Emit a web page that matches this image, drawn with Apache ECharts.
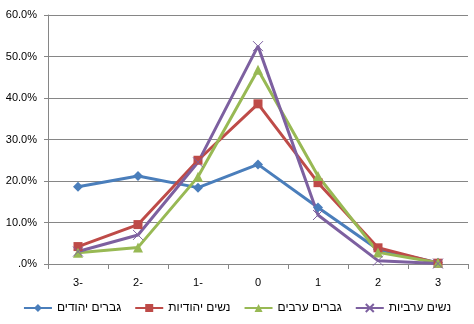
<!DOCTYPE html>
<html><head><meta charset="utf-8">
<script src="https://cdn.jsdelivr.net/npm/echarts@6/dist/echarts.min.js"></script>
<style>html,body{margin:0;padding:0;background:#fff}#c{width:474px;height:324px}</style>
</head><body><div id="c"></div>
<script>
const categories = ['3-', '2-', '1-', '0', '1', '2', '3'];
const yTicks = ['.0%', '10.0%', '20.0%', '30.0%', '40.0%', '50.0%', '60.0%'];
const jewishMen = [18.6, 21.2, 18.4, 24.0, 13.6, 3.5, 0.3];
const jewishWomen = [4.2, 9.5, 25.0, 38.6, 19.6, 3.9, 0.2];
const arabMen = [2.7, 4.0, 21.0, 46.8, 21.2, 2.8, 0.3];
const arabWomen = [3.0, 7.0, 24.5, 52.5, 11.8, 0.8, 0.1];
const names = ['גברים יהודים', 'נשים יהודיות', 'גברים ערבים', 'נשים ערביות'];
const colors = ['#4A7EBB', '#BE4B48', '#98B954', '#7D60A0'];
const font = 'Liberation Sans, Arial, sans-serif';

function mk(i, data, symbol, size, extra) {
  return Object.assign({
    name: names[i], type: 'line', data: data, symbol: symbol, symbolSize: size,
    lineStyle: { color: colors[i], width: 3 },
    itemStyle: { color: colors[i] },
    animation: false
  }, extra || {});
}
const chart = echarts.init(document.getElementById('c'), null, { renderer: 'canvas' });
chart.setOption({
  animation: false,
  textStyle: { fontFamily: font },
  grid: { left: 48, right: 6, top: 15, bottom: 60, containLabel: false },
  legend: {
    bottom: 5, left: 'center', itemWidth: 28, itemHeight: 10, itemGap: 13,
    textStyle: { fontSize: 12, color: '#000', fontFamily: font },
    data: names
  },
  xAxis: {
    type: 'category', data: categories, boundaryGap: true,
    axisLine: { lineStyle: { color: '#868686' } },
    axisTick: { show: true, length: 5, lineStyle: { color: '#868686' } },
    axisLabel: { fontSize: 11, color: '#000', margin: 13 }
  },
  yAxis: {
    type: 'value', min: 0, max: 60, interval: 10,
    axisLine: { show: true, lineStyle: { color: '#868686' } },
    axisTick: { show: true, length: 4, lineStyle: { color: '#868686' } },
    splitLine: { lineStyle: { color: '#868686' } },
    axisLabel: { fontSize: 11, color: '#000', margin: 11,
      formatter: function (v) { return yTicks[Math.round(v / 10)]; } }
  },
  series: [
    mk(0, jewishMen, 'diamond', 10),
    mk(1, jewishWomen, 'rect', 9),
    mk(2, arabMen, 'triangle', 10),
    mk(3, arabWomen, 'path://M0,0L10,10M10,0L0,10', 10,
       { itemStyle: { color: 'rgba(0,0,0,0)', borderColor: colors[3], borderWidth: 1 } })
  ]
});
</script></body></html>
